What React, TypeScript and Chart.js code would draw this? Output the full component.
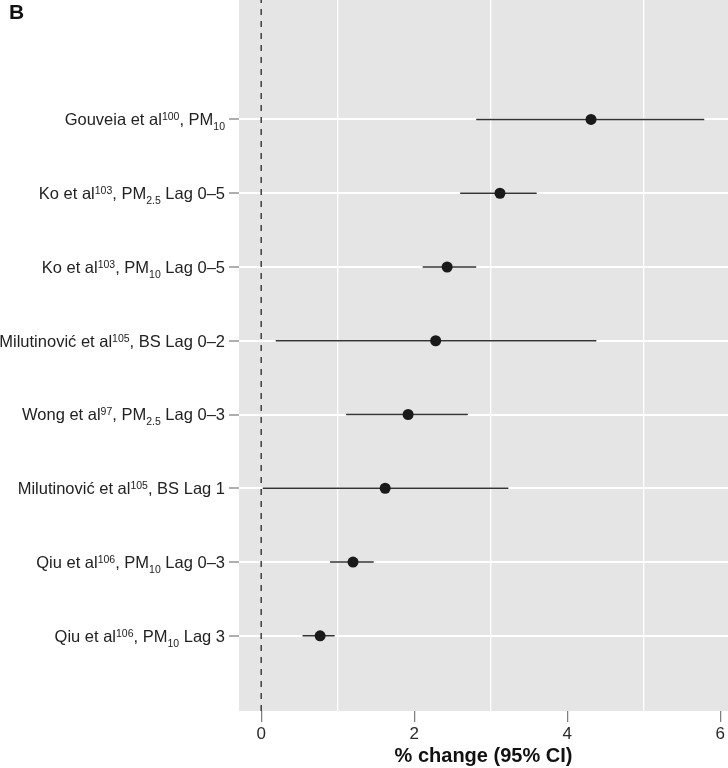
import { useEffect, useRef } from 'react';
import { Chart, registerables } from 'chart.js';

Chart.register(...registerables);

// ---- data (top row first) ----
const studyLabels = [
  'Gouveia et al^{100}, PM_{10}',
  'Ko et al^{103}, PM_{2.5} Lag 0–5',
  'Ko et al^{103}, PM_{10} Lag 0–5',
  'Milutinović et al^{105}, BS Lag 0–2',
  'Wong et al^{97}, PM_{2.5} Lag 0–3',
  'Milutinović et al^{105}, BS Lag 1',
  'Qiu et al^{106}, PM_{10} Lag 0–3',
  'Qiu et al^{106}, PM_{10} Lag 3',
];
const estimates = [4.31, 3.12, 2.43, 2.28, 1.92, 1.62, 1.2, 0.77];
const lowerCI = [2.81, 2.6, 2.11, 0.19, 1.11, 0.02, 0.9, 0.54];
const upperCI = [5.79, 3.6, 2.81, 4.38, 2.7, 3.23, 1.47, 0.96];
const xTickValues = [0, 1, 2, 3, 4, 5, 6];
const xLabeledTicks = [0, 2, 4, 6];
const xGridValues = [1, 3, 5];
const referenceValue = 0;
const axisTitle = '% change (95% CI)';
const panelLetter = 'B';

const FONT = '"Liberation Sans", Arial, Helvetica, sans-serif';
const X_MIN = -0.29;
const X_MAX = 6.1;
const Y_MIN = -0.02;
const Y_MAX = 9.62;

const n = studyLabels.length;
const rowOf = (i: number) => n - i;

type Seg = { text: string; kind: 'n' | 'sup' | 'sub' };
function parseLabel(s: string): Seg[] {
  const segs: Seg[] = [];
  const re = /([\^_])\{([^}]*)\}/g;
  let last = 0;
  let m: RegExpExecArray | null;
  while ((m = re.exec(s))) {
    if (m.index > last) segs.push({ text: s.slice(last, m.index), kind: 'n' });
    segs.push({ text: m[2], kind: m[1] === '^' ? 'sup' : 'sub' });
    last = re.lastIndex;
  }
  if (last < s.length) segs.push({ text: s.slice(last), kind: 'n' });
  return segs;
}

const bgPlugin = {
  id: 'panelBg',
  beforeDraw(chart: any) {
    const { ctx, chartArea: a } = chart;
    ctx.save();
    ctx.fillStyle = '#e5e5e5';
    ctx.fillRect(a.left, a.top, a.right - a.left, a.bottom - a.top);
    ctx.restore();
  },
};

const labelPlugin = {
  id: 'richLabels',
  afterDraw(chart: any) {
    const { ctx, chartArea: a } = chart;
    const yScale = chart.scales.y;
    const rightX = a.left - 14;
    const mainFont = `16.5px ${FONT}`;
    const smallFont = `10.5px ${FONT}`;
    ctx.save();
    ctx.fillStyle = '#222222';
    ctx.textBaseline = 'alphabetic';
    ctx.textAlign = 'left';
    studyLabels.forEach((lab, i) => {
      const y = yScale.getPixelForValue(rowOf(i));
      const segs = parseLabel(lab);
      let total = 0;
      const widths = segs.map((s) => {
        ctx.font = s.kind === 'n' ? mainFont : smallFont;
        const w = ctx.measureText(s.text).width;
        total += w;
        return w;
      });
      let x = rightX - total;
      const base = y + 5.8;
      segs.forEach((s, k) => {
        ctx.font = s.kind === 'n' ? mainFont : smallFont;
        const by = s.kind === 'n' ? base : s.kind === 'sup' ? base - 5 : base + 5;
        ctx.fillText(s.text, x, by);
        x += widths[k];
      });
    });
    ctx.font = `bold 21px ${FONT}`;
    ctx.fillStyle = '#111111';
    ctx.fillText(panelLetter, 9, 19);
    ctx.restore();
  },
};

export default function App() {
  const ref = useRef<HTMLCanvasElement | null>(null);
  useEffect(() => {
    if (!ref.current) return;
    const datasets: any[] = [];
    datasets.push({
      label: 'estimate',
      data: estimates.map((v, i) => ({ x: v, y: rowOf(i) })),
      pointRadius: 5.5,
      pointHoverRadius: 5.5,
      pointBackgroundColor: '#1a1a1a',
      pointBorderWidth: 0,
      showLine: false,
    });
    estimates.forEach((_, i) => {
      datasets.push({
        label: 'ci' + i,
        data: [
          { x: lowerCI[i], y: rowOf(i) },
          { x: upperCI[i], y: rowOf(i) },
        ],
        showLine: true,
        borderColor: '#333333',
        borderWidth: 1.7,
        pointRadius: 0,
      });
    });
    datasets.push({
      label: 'ref',
      data: [
        { x: referenceValue, y: Y_MIN },
        { x: referenceValue, y: Y_MAX },
      ],
      showLine: true,
      borderColor: '#333333',
      borderWidth: 1.4,
      borderDash: [6, 6],
      pointRadius: 0,
    });

    const chart = new Chart(ref.current, {
      type: 'scatter',
      data: { datasets },
      plugins: [bgPlugin, labelPlugin],
      options: {
        animation: false,
        responsive: false,
        devicePixelRatio: 1,
        layout: { padding: 0, autoPadding: false },
        plugins: { legend: { display: false }, tooltip: { enabled: false } },
        scales: {
          x: {
            type: 'linear',
            position: 'bottom',
            min: X_MIN,
            max: X_MAX,
            border: { display: false },
            afterBuildTicks: (s: any) => {
              s.ticks = xTickValues.map((v) => ({ value: v }));
            },
            afterFit: (s: any) => {
              s.height = 57;
            },
            ticks: {
              autoSkip: false,
              maxRotation: 0,
              padding: 2,
              color: '#2a2a2a',
              font: { size: 17, family: FONT },
              callback: (v: any) => (xLabeledTicks.includes(Number(v)) ? String(v) : ''),
            },
            grid: {
              color: (c: any) => (xGridValues.includes(c.tick?.value) ? '#ffffff' : 'rgba(0,0,0,0)'),
              lineWidth: 1.3,
              tickColor: (c: any) => (xLabeledTicks.includes(c.tick?.value) ? '#7a7a7a' : 'rgba(0,0,0,0)'),
              tickLength: 11,
              tickWidth: 1.2,
            },
            title: {
              display: true,
              text: axisTitle,
              color: '#111111',
              font: { size: 20, weight: 'bold', family: FONT },
              padding: { top: 0, bottom: 0 },
            },
          },
          y: {
            type: 'linear',
            min: Y_MIN,
            max: Y_MAX,
            border: { display: false },
            afterBuildTicks: (s: any) => {
              s.ticks = studyLabels.map((_, i) => ({ value: rowOf(i) }));
            },
            afterFit: (s: any) => {
              s.width = 239;
            },
            ticks: { display: false },
            grid: {
              color: '#ffffff',
              lineWidth: 2,
              tickColor: '#7a7a7a',
              tickLength: 10,
              tickWidth: 1.2,
            },
          },
        },
      } as any,
    });
    return () => chart.destroy();
  }, []);

  return (
    <div style={{ position: 'fixed', left: 0, top: 0, width: 728, height: 768, background: '#fff' }}>
      <canvas ref={ref} width={728} height={768} style={{ display: 'block' }} />
    </div>
  );
}
